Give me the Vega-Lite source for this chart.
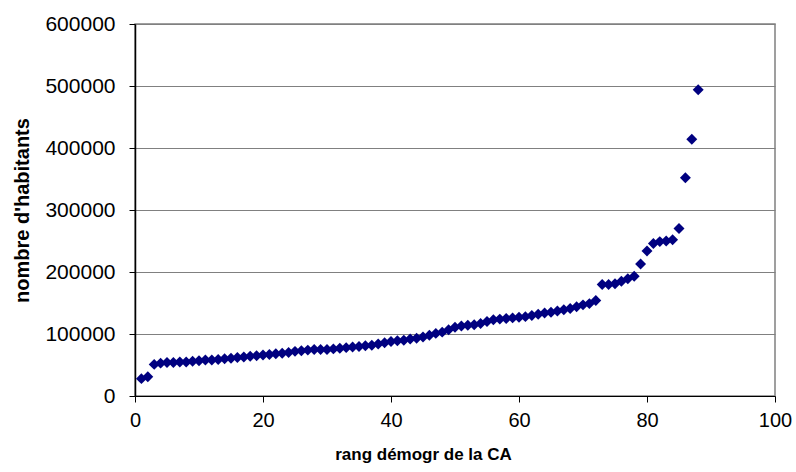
{
  "$schema": "https://vega.github.io/schema/vega-lite/v6.json",
  "autosize": "none",
  "width": 640,
  "height": 372,
  "padding": {"left": 135, "top": 24, "right": 21, "bottom": 76},
  "background": "white",
  "config": {
    "view": {"stroke": "#808080", "strokeWidth": 1.5},
    "font": "Liberation Sans"
  },
  "data": {
    "values": [
      {"rang": 1, "hab": 28000}, {"rang": 2, "hab": 31000}, {"rang": 3, "hab": 51000},
      {"rang": 4, "hab": 53000}, {"rang": 5, "hab": 54000}, {"rang": 6, "hab": 54000},
      {"rang": 7, "hab": 55000}, {"rang": 8, "hab": 55000}, {"rang": 9, "hab": 56000},
      {"rang": 10, "hab": 57000}, {"rang": 11, "hab": 58000}, {"rang": 12, "hab": 58000},
      {"rang": 13, "hab": 59000}, {"rang": 14, "hab": 60000}, {"rang": 15, "hab": 61000},
      {"rang": 16, "hab": 62000}, {"rang": 17, "hab": 63000}, {"rang": 18, "hab": 64000},
      {"rang": 19, "hab": 65000}, {"rang": 20, "hab": 66000}, {"rang": 21, "hab": 67000},
      {"rang": 22, "hab": 68000}, {"rang": 23, "hab": 69000}, {"rang": 24, "hab": 70000},
      {"rang": 25, "hab": 72000}, {"rang": 26, "hab": 73000}, {"rang": 27, "hab": 74000},
      {"rang": 28, "hab": 75000}, {"rang": 29, "hab": 75000}, {"rang": 30, "hab": 75000},
      {"rang": 31, "hab": 76000}, {"rang": 32, "hab": 77000}, {"rang": 33, "hab": 78000},
      {"rang": 34, "hab": 79000}, {"rang": 35, "hab": 80000}, {"rang": 36, "hab": 81000},
      {"rang": 37, "hab": 82000}, {"rang": 38, "hab": 84000}, {"rang": 39, "hab": 86000},
      {"rang": 40, "hab": 88000}, {"rang": 41, "hab": 89000}, {"rang": 42, "hab": 90000},
      {"rang": 43, "hab": 92000}, {"rang": 44, "hab": 93000}, {"rang": 45, "hab": 95000},
      {"rang": 46, "hab": 98000}, {"rang": 47, "hab": 101000}, {"rang": 48, "hab": 103000},
      {"rang": 49, "hab": 107000}, {"rang": 50, "hab": 111000}, {"rang": 51, "hab": 113000},
      {"rang": 52, "hab": 114000}, {"rang": 53, "hab": 115000}, {"rang": 54, "hab": 117000},
      {"rang": 55, "hab": 120000}, {"rang": 56, "hab": 123000}, {"rang": 57, "hab": 124000},
      {"rang": 58, "hab": 125000}, {"rang": 59, "hab": 126000}, {"rang": 60, "hab": 127000},
      {"rang": 61, "hab": 128000}, {"rang": 62, "hab": 130000}, {"rang": 63, "hab": 132000},
      {"rang": 64, "hab": 134000}, {"rang": 65, "hab": 135000}, {"rang": 66, "hab": 137000},
      {"rang": 67, "hab": 139000}, {"rang": 68, "hab": 141000}, {"rang": 69, "hab": 144000},
      {"rang": 70, "hab": 147000}, {"rang": 71, "hab": 149000}, {"rang": 72, "hab": 154000},
      {"rang": 73, "hab": 180000}, {"rang": 74, "hab": 180000}, {"rang": 75, "hab": 181000},
      {"rang": 76, "hab": 185000}, {"rang": 77, "hab": 189000}, {"rang": 78, "hab": 193000},
      {"rang": 79, "hab": 213000}, {"rang": 80, "hab": 234000}, {"rang": 81, "hab": 246000},
      {"rang": 82, "hab": 249000}, {"rang": 83, "hab": 250000}, {"rang": 84, "hab": 252000},
      {"rang": 85, "hab": 270000}, {"rang": 86, "hab": 352000}, {"rang": 87, "hab": 414000},
      {"rang": 88, "hab": 494000}
    ]
  },
  "mark": {"type": "point", "shape": "diamond", "filled": true, "color": "#000080", "size": 120, "opacity": 1},
  "encoding": {
    "x": {
      "field": "rang", "type": "quantitative",
      "scale": {"domain": [0, 100], "nice": false, "zero": true},
      "axis": {
        "title": "rang démogr de la CA",
        "values": [0, 20, 40, 60, 80, 100],
        "grid": false,
        "domainColor": "black", "domainWidth": 1,
        "tickColor": "black", "tickSize": 6, "tickWidth": 1,
        "labelFontSize": 20, "labelColor": "black", "labelPadding": 8,
        "labelFont": "Liberation Sans", "labelFlush": false, "labelOverlap": false,
        "titleFontSize": 17, "titleFontWeight": "bold", "titleColor": "black",
        "titleFont": "Liberation Sans", "titlePadding": 16,
        "titleX": 288, "titleAlign": "center"
      }
    },
    "y": {
      "field": "hab", "type": "quantitative",
      "scale": {"domain": [0, 600000], "nice": false},
      "axis": {
        "title": "nombre d'habitants",
        "values": [0, 100000, 200000, 300000, 400000, 500000, 600000],
        "format": "d",
        "grid": true, "gridColor": "#808080", "gridWidth": 1.2, "gridOpacity": 1,
        "domainColor": "black", "domainWidth": 1.5,
        "tickColor": "black", "tickSize": 6, "tickWidth": 1,
        "labelFontSize": 21, "labelColor": "black", "labelPadding": 14,
        "labelFont": "Liberation Sans", "labelFlush": false, "labelOverlap": false,
        "titleFontSize": 20, "titleFontWeight": "bold", "titleColor": "black",
        "titleFont": "Liberation Sans", "titlePadding": 12
      }
    }
  }
}
